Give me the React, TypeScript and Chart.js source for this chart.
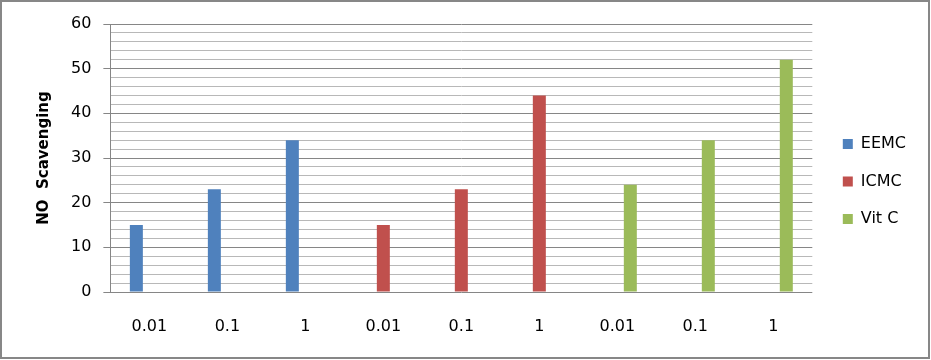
import React, { useEffect, useRef } from "react";
import { Chart, registerables } from "chart.js";

Chart.register(...registerables);

const categories = ["0.01", "0.1", "1", "0.01", "0.1", "1", "0.01", "0.1", "1"];
const eemc = [15, 23, 34, null, null, null, null, null, null];
const icmc = [null, null, null, 15, 23, 44, null, null, null];
const vitc = [null, null, null, null, null, null, 24, 34, 52];
const seriesNames = ["EEMC", "ICMC", "Vit C"];
const seriesColors = ["#4F81BD", "#C0504D", "#9BBB59"];
const yTitle = "NO  Scavenging";
const yMax = 60;
const yMinorStep = 2;
const yMajorStep = 10;

const FONT = "'DejaVu Sans', sans-serif";

const borderPlugin = {
  id: "outerBorder",
  beforeDraw(chart: any) {
    const ctx = chart.ctx;
    ctx.save();
    ctx.fillStyle = "#ffffff";
    ctx.fillRect(0, 0, chart.width, chart.height);
    ctx.restore();
  },
  afterDraw(chart: any) {
    const ctx = chart.ctx;
    ctx.save();
    ctx.strokeStyle = "#878787";
    ctx.lineWidth = 2;
    ctx.strokeRect(1, 1, chart.width - 3, chart.height - 3);
    ctx.restore();
  },
};

export default function App() {
  const ref = useRef<HTMLCanvasElement | null>(null);
  useEffect(() => {
    if (!ref.current) return;
    const isMajor = (c: any) => c.tick && c.tick.value % yMajorStep === 0;
    const chart = new Chart(ref.current, {
      type: "bar",
      data: {
        labels: categories,
        datasets: [eemc, icmc, vitc].map((d, i) => ({
          label: seriesNames[i],
          data: d as any,
          backgroundColor: seriesColors[i],
          borderWidth: 0,
          categoryPercentage: 0.5,
          barPercentage: 1,
        })),
      },
      options: {
        responsive: false,
        animation: false,
        devicePixelRatio: 1,
        layout: { padding: { left: 10, right: 15, top: 24, bottom: 21 } },
        plugins: {
          tooltip: { enabled: false },
          legend: {
            position: "right",
            labels: {
              boxWidth: 10,
              boxHeight: 10,
              padding: 21.5,
              color: "#000",
              font: { family: FONT, size: 16 },
            },
          },
        },
        scales: {
          x: {
            grid: { display: false, drawTicks: false },
            border: { display: false },
            ticks: {
              color: "#000",
              font: { family: FONT, size: 16 },
              padding: 25,
              maxRotation: 0,
              autoSkip: false,
            },
            afterFit: (s: any) => {
              s.height = 47;
            },
          },
          y: {
            min: 0,
            max: yMax,
            border: { display: true, color: "#868686", width: 1 },
            grid: {
              color: (c: any) => (isMajor(c) ? "#868686" : "#b8b8b8"),
              tickColor: (c: any) => (isMajor(c) ? "#868686" : "rgba(0,0,0,0)"),
              tickLength: 7,
            },
            ticks: {
              stepSize: yMinorStep,
              maxTicksLimit: 100,
              autoSkip: false,
              padding: 12,
              color: "#000",
              font: { family: FONT, size: 16 },
              callback: (v: any) => (Number(v) % yMajorStep === 0 ? String(v) : ""),
            },
            title: {
              display: true,
              text: yTitle,
              color: "#000",
              font: { family: FONT, size: 15, weight: "bold" },
              padding: { top: 25, bottom: 6 },
            },
          },
          y2: {
            position: "right",
            display: true,
            grid: { display: false, drawTicks: false },
            border: { display: false },
            ticks: { display: false },
            afterFit: (s: any) => {
              s.width = 9;
            },
          },
        },
      },
      plugins: [borderPlugin],
    } as any);
    return () => chart.destroy();
  }, []);
  return (
    <div style={{ position: "absolute", left: 0, top: 0, width: 931, height: 360 }}>
      <canvas ref={ref} width={931} height={360} style={{ display: "block" }} />
    </div>
  );
}
